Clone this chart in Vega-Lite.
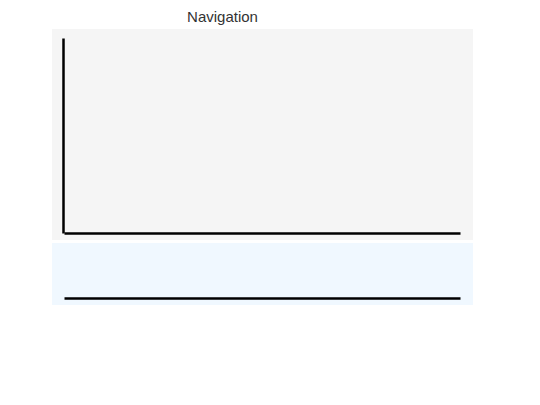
{
  "$schema": "https://vega.github.io/schema/vega-lite/v6.json",
  "padding": {"left": 52, "top": 10, "right": 0, "bottom": 0},
  "background": "white",
  "title": {
    "text": "Navigation",
    "font": "Liberation Sans",
    "fontSize": 15,
    "fontWeight": "normal",
    "color": "#333333",
    "anchor": "middle",
    "dx": -40,
    "offset": 4
  },
  "data": {"values": []},
  "spacing": 3,
  "vconcat": [
    {
      "width": 421,
      "height": 211,
      "view": {"fill": "#f5f5f5", "stroke": null},
      "mark": {"type": "point", "opacity": 0},
      "encoding": {
        "x": {
          "field": "x",
          "type": "quantitative",
          "scale": {"domain": [0, 1], "range": [12, 408]},
          "axis": {"title": null, "labels": false, "ticks": false, "grid": false, "domainColor": "black", "domainWidth": 2.5, "offset": -7}
        },
        "y": {
          "field": "y",
          "type": "quantitative",
          "scale": {"domain": [0, 1], "range": [204, 9]},
          "axis": {"title": null, "labels": false, "ticks": false, "grid": false, "domainColor": "black", "domainWidth": 2.5, "offset": -11}
        }
      }
    },
    {
      "width": 421,
      "height": 62,
      "view": {"fill": "#f0f8ff", "stroke": null},
      "mark": {"type": "point", "opacity": 0},
      "encoding": {
        "x": {
          "field": "x",
          "type": "quantitative",
          "scale": {"domain": [0, 1], "range": [12, 408]},
          "axis": {"title": null, "labels": false, "ticks": false, "grid": false, "domainColor": "black", "domainWidth": 2.5, "offset": -7}
        }
      }
    }
  ]
}
